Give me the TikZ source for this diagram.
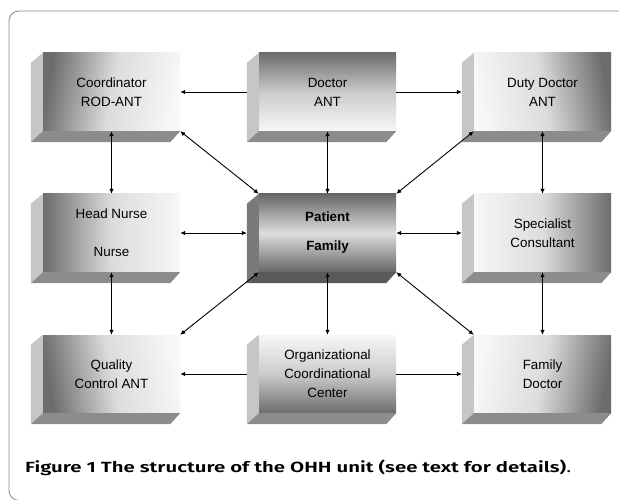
\documentclass[tikz,border=0pt]{standalone}
\usepackage{fontspec}
\setmainfont{Liberation Sans}
\newfontfamily\capfont{Fira Sans}[BoldFont={Fira Sans SemiBold}]
\usetikzlibrary{arrows.meta,calc}
\definecolor{frameg}{HTML}{8A8A8A}
\definecolor{dk}{HTML}{6C6C6C}
\definecolor{md}{HTML}{DCDCDC}
\definecolor{lt}{HTML}{F7F7F7}
\definecolor{sideL}{HTML}{C6C6C6}
\definecolor{sideB}{HTML}{8C8C8C}
\definecolor{pSideL}{HTML}{7A7A7A}
\definecolor{pSideB}{HTML}{5A5A5A}
\tikzset{
  front/.style={minimum width=137pt, minimum height=78pt, inner sep=0pt, align=center,
    font=\fontsize{13.4}{19}\selectfont},
  shL2R/.style={left color=dk, right color=lt, middle color=md},
  shR2L/.style={left color=lt, right color=dk, middle color=md},
  shT2B/.style={top color=dk, bottom color=lt, middle color=md!85!dk},
  shB2T/.style={top color=lt, bottom color=dk, middle color=md!85!dk},
  shPat/.style={top color=dk!95!black, bottom color=dk!95!black, middle color=md!95!white},
  conn/.style={line width=0.9pt, black},
  >={Latex[length=5pt,width=4.5pt]}
}
\newcommand{\mybox}[7]{%
  \node[front,#4] (#1) at (#2+68.5,#3+39) {#5};
  \fill[#6] (#1.north west) -- ++(-12,10) -- ($(#1.south west)+(-12,11)$) -- (#1.south west) -- cycle;
  \fill[#7] (#1.south west) -- (#1.south east) -- ++(-10,11) -- ($(#1.south west)+(-12,11)$) -- cycle;
  \coordinate (#1L) at ($(#1.west)+(-12,0)$);
}
\begin{document}
\begin{tikzpicture}[x=1pt,y=-1pt]
\useasboundingbox (0,0) rectangle (619,500);
\fill[white] (0,0) rectangle (619,500);
\draw[frameg, line width=0.8pt, rounded corners=10pt] (620,11) -- (9,11) -- (9,500.5) -- (620,500.5);

\mybox{coord}{43}{53}{shL2R, shading angle=80}{Coordinator\\ROD-ANT}{sideL}{sideB}
\mybox{doc}{259}{53}{shT2B}{Doctor\\ANT}{sideL}{sideB}
\mybox{duty}{474}{53}{shR2L, shading angle=100}{Duty Doctor\\ANT}{sideL}{sideB}
\mybox{head}{43}{194}{shL2R}{Head Nurse\\[19pt]Nurse}{sideL}{sideB}
\mybox{pat}{259}{194}{shPat}{\bfseries Patient\\[10pt]\bfseries Family}{pSideL}{pSideB}
\mybox{spec}{474}{194}{shR2L}{Specialist\\Consultant}{sideL}{sideB}
\mybox{qual}{43}{335}{shL2R, shading angle=100}{Quality\\Control ANT}{sideL}{sideB}
\mybox{org}{259}{335}{shB2T}{Organizational\\Coordinational\\Center}{sideL}{sideB}
\mybox{fam}{474}{335}{shR2L, shading angle=80}{Family\\Doctor}{sideL}{sideB}

\draw[conn,->] (docL) -- (coord.east);
\draw[conn,->] (doc.east) -- (dutyL);
\draw[conn,<->] (doc.south) -- (pat.north);
\draw[conn,<->] (coord.south) -- (head.north);
\draw[conn,<->] (head.south) -- (qual.north);
\draw[conn,<->] (duty.south) -- (spec.north);
\draw[conn,<->] (spec.south) -- (fam.north);
\draw[conn,<->] (pat.south) -- (org.north);
\draw[conn,<->] (coord.south east) -- (pat.north west);
\draw[conn,<->] (duty.south west) -- (pat.north east);
\draw[conn,<->] (pat.south west) -- (qual.north east);
\draw[conn,<->] (pat.south east) -- (fam.north west);
\draw[conn,<->] (head.east) -- (patL);
\draw[conn,<->] (pat.east) -- (specL);
\draw[conn,->] (orgL) -- (qual.east);
\draw[conn,->] (org.east) -- (famL);

\node[anchor=base west, inner sep=0pt] (cap) at (25,472)
  {\resizebox{546pt}{12.6pt}{\capfont\fontsize{16}{20}\selectfont\bfseries Figure 1 The structure of the OHH unit (see text for details)\mdseries.}};
\end{tikzpicture}
\end{document}
